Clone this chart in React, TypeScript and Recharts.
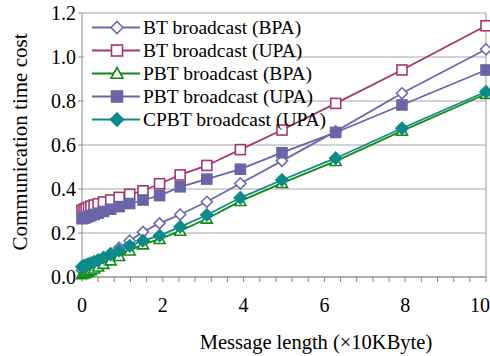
import { LineChart, Line, XAxis, YAxis, CartesianGrid, Legend, Label, ReferenceLine } from 'recharts';

// message length (x10KByte)
const lengths = [0, 0.05, 0.1, 0.16, 0.22, 0.3, 0.4, 0.53, 0.71, 0.92, 1.18, 1.51, 1.92, 2.43, 3.09, 3.92, 4.95, 6.28, 7.92, 10];

const btBpa = [0.03, 0.035, 0.04, 0.047, 0.054, 0.062, 0.073, 0.088, 0.108, 0.133, 0.165, 0.205, 0.244, 0.284, 0.342, 0.425, 0.528, 0.662, 0.835, 1.035];
const btUpa = [0.303, 0.308, 0.312, 0.317, 0.322, 0.327, 0.333, 0.341, 0.35, 0.362, 0.376, 0.392, 0.424, 0.464, 0.507, 0.579, 0.668, 0.789, 0.941, 1.142];
const pbtBpa = [0.012, 0.016, 0.02, 0.025, 0.031, 0.038, 0.047, 0.059, 0.075, 0.095, 0.12, 0.148, 0.172, 0.21, 0.265, 0.345, 0.427, 0.527, 0.664, 0.832];
const pbtUpa = [0.265, 0.268, 0.271, 0.275, 0.279, 0.284, 0.29, 0.298, 0.308, 0.32, 0.334, 0.35, 0.37, 0.41, 0.445, 0.49, 0.565, 0.657, 0.782, 0.941];
const cpbtUpa = [0.047, 0.05, 0.054, 0.058, 0.063, 0.069, 0.077, 0.088, 0.102, 0.12, 0.142, 0.165, 0.188, 0.228, 0.282, 0.36, 0.441, 0.54, 0.676, 0.842];

const xTicks = [0, 0.4, 0.8, 1.2, 1.6, 2, 2.4, 2.8, 3.2, 3.6, 4, 4.4, 4.8, 5.2, 5.6, 6, 6.4, 6.8, 7.2, 7.6, 8, 8.4, 8.8, 9.2, 9.6, 10];
const xLabels = [0, 2, 4, 6, 8, 10];
const yTicks = [0, 0.2, 0.4, 0.6, 0.8, 1.0, 1.2];

type Shape = 'diamond' | 'square' | 'triangle';

const SERIES: { key: string; name: string; color: string; shape: Shape; filled: boolean; r: number }[] = [
  { key: 'btBpa', name: 'BT broadcast (BPA)', color: '#6e68ad', shape: 'diamond', filled: false, r: 5.5 },
  { key: 'btUpa', name: 'BT broadcast (UPA)', color: '#a23670', shape: 'square', filled: false, r: 5 },
  { key: 'pbtBpa', name: 'PBT broadcast (BPA)', color: '#118a16', shape: 'triangle', filled: false, r: 5.5 },
  { key: 'pbtUpa', name: 'PBT broadcast (UPA)', color: '#6a65a6', shape: 'square', filled: true, r: 5 },
  { key: 'cpbtUpa', name: 'CPBT broadcast (UPA)', color: '#0e8a8a', shape: 'diamond', filled: true, r: 6 },
];

const rows = lengths.map((x, i) => ({
  x,
  btBpa: btBpa[i],
  btUpa: btUpa[i],
  pbtBpa: pbtBpa[i],
  pbtUpa: pbtUpa[i],
  cpbtUpa: cpbtUpa[i],
}));

const FONT = "'Times New Roman', Times, 'Liberation Serif', 'DejaVu Serif', serif";

function Marker({ shape, cx, cy, color, filled, r }: { shape: Shape; cx: number; cy: number; color: string; filled: boolean; r: number }) {
  const fill = filled ? color : '#fff';
  if (shape === 'square') {
    return <rect x={cx - r} y={cy - r} width={r * 2} height={r * 2} fill={fill} stroke={color} strokeWidth={1.6} />;
  }
  if (shape === 'triangle') {
    return (
      <polygon
        points={`${cx},${cy - r} ${cx + r},${cy + r * 0.8} ${cx - r},${cy + r * 0.8}`}
        fill={fill}
        stroke={color}
        strokeWidth={1.6}
      />
    );
  }
  return (
    <polygon
      points={`${cx},${cy - r} ${cx + r},${cy} ${cx},${cy + r} ${cx - r},${cy}`}
      fill={fill}
      stroke={color}
      strokeWidth={1.6}
    />
  );
}

function XTick({ x, y, payload }: any) {
  const v = payload.value;
  if (!xLabels.includes(v)) return null;
  // the last label sits a little inside the right edge
  const dx = v === 10 ? -6 : 0;
  return (
    <text x={x + dx} y={y + 18} textAnchor="middle" fontSize={20} style={{ fontFamily: FONT }} fill="#000">
      {v}
    </text>
  );
}

function ChartLegend() {
  return (
    <div style={{ background: '#fff', width: 191, paddingTop: 1, fontFamily: FONT, fontSize: 19.5, color: '#000' }}>
      {SERIES.map(s => (
        <div key={s.key} style={{ display: 'flex', alignItems: 'center', height: 23, whiteSpace: 'nowrap' }}>
          <svg width={58} height={23} style={{ flex: 'none' }}>
            <line x1={8} y1={11.5} x2={56} y2={11.5} stroke={s.color} strokeWidth={1.8} />
            <Marker shape={s.shape} cx={33} cy={11.5} color={s.color} filled={s.filled} r={s.r + 0.5} />
          </svg>
          <span style={{ marginLeft: 1 }}>{s.name}</span>
        </div>
      ))}
    </div>
  );
}

export default function App() {
  return (
    <div style={{ position: 'absolute', left: 0, top: 0, background: '#fff', fontFamily: FONT }}>
      <LineChart width={490} height={356} data={rows} margin={{ top: 13, right: 4, left: 0, bottom: 0 }} style={{ fontFamily: FONT }}>
        <CartesianGrid vertical={false} stroke="#a8a8a8" strokeWidth={1.2} />
        <XAxis
          type="number"
          dataKey="x"
          domain={[0, 10]}
          ticks={xTicks}
          interval={0}
          height={79}
          tickSize={5}
          tickMargin={12}
          stroke="#888"
          tick={<XTick />}
        >
          <Label
            content={({ viewBox }: any) => (
              <text x={viewBox.x + 234} y={viewBox.y + 72} textAnchor="middle" fontSize={20.5} style={{ fontFamily: FONT }} fill="#000">
                Message length (×10KByte)
              </text>
            )}
          />
        </XAxis>
        <YAxis
          type="number"
          domain={[0, 1.2]}
          ticks={yTicks}
          width={82}
          tickSize={4}
          tickMargin={2}
          stroke="#888"
          tick={{ fontSize: 20, fill: '#000', style: { fontFamily: FONT } }}
          tickFormatter={(v: number) => v.toFixed(1)}
        >
          <Label
            content={({ viewBox }: any) => {
              const cx = viewBox.x + 20;
              const cy = viewBox.y + viewBox.height / 2 - 3;
              return (
                <text
                  x={cx}
                  y={cy}
                  transform={`rotate(-90, ${cx}, ${cy})`}
                  textAnchor="middle"
                  dominantBaseline="central"
                  fontSize={21}
                  style={{ fontFamily: FONT }}
                  fill="#000"
                >
                  Communication time cost
                </text>
              );
            }}
          />
        </YAxis>
        <ReferenceLine x={10} stroke="#a8a8a8" strokeWidth={1.2} />
        <Legend
          layout="vertical"
          align="center"
          verticalAlign="middle"
          wrapperStyle={{ left: 84, top: 15, width: 191 }}
          content={() => <ChartLegend />}
        />
        {SERIES.map(s => (
          <Line
            key={s.key}
            dataKey={s.key}
            name={s.name}
            stroke={s.color}
            strokeWidth={1.8}
            isAnimationActive={false}
            dot={(p: any) => (
              <Marker key={`${s.key}-${p.index}`} shape={s.shape} cx={p.cx} cy={p.cy} color={s.color} filled={s.filled} r={s.r} />
            )}
            activeDot={false}
          />
        ))}
      </LineChart>
    </div>
  );
}
